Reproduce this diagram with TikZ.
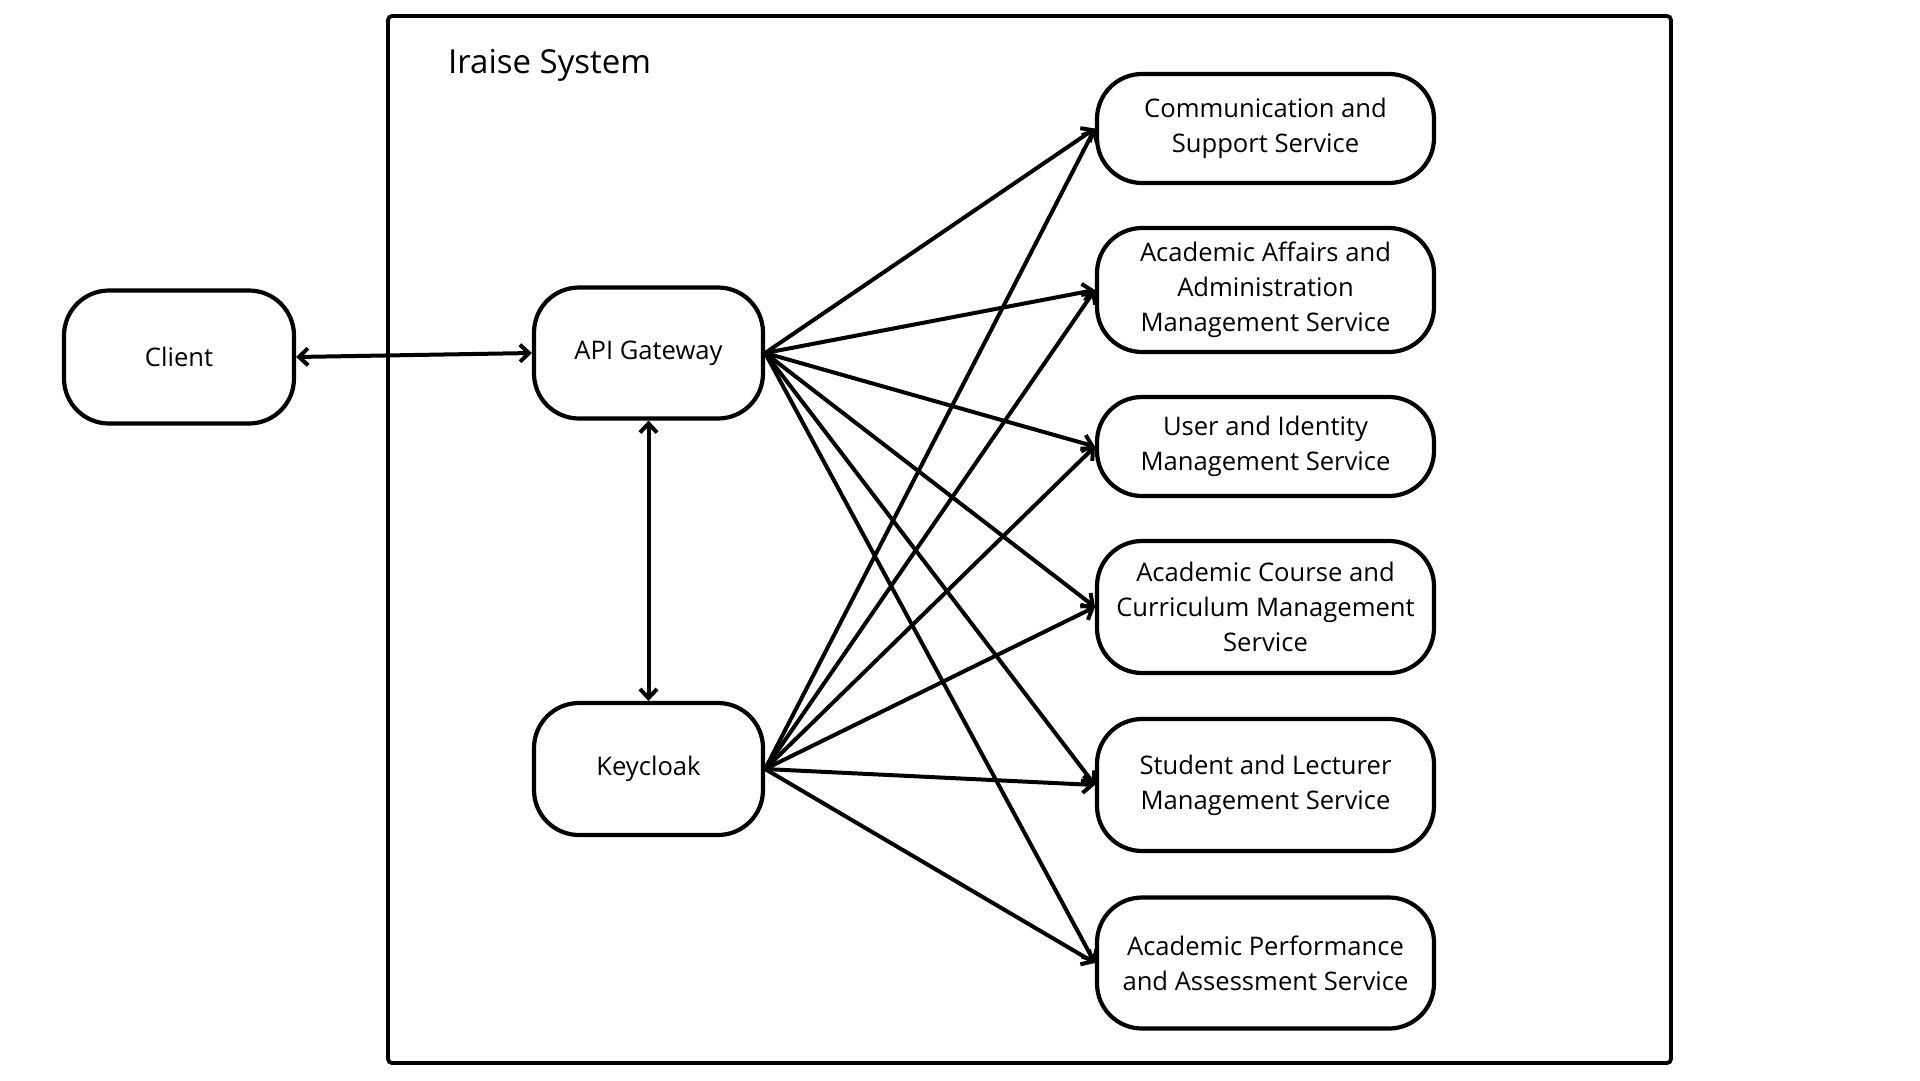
\documentclass[tikz,border=0pt]{standalone}
\usepackage{fontspec}
\setmainfont{Open Sans}
\usetikzlibrary{arrows.meta}
\tikzset{>={Straight Barb[length=9pt,width=17pt]}}
\tikzset{box/.style={draw, line width=4.2pt, rounded corners=45pt, align=center,
    inner sep=0pt, font=\fontsize{25.6}{35}\selectfont}}
\tikzset{svc/.style={box, minimum width=337pt}}
\tikzset{link/.style={->, line width=4pt, line cap=round, line join=round}}
\tikzset{frame/.style={draw, line width=3.8pt, rounded corners=4pt}}

\begin{document}
\begin{tikzpicture}[x=1pt, y=-1pt]
\useasboundingbox (0,0) rectangle (1920,1080);

\draw[frame] (388,16) rectangle (1671,1063);
\node[anchor=base west, inner sep=0pt, font=\fontsize{33}{40}\selectfont] (title) at (448,73) {Iraise System};

\node[box, minimum width=230pt, minimum height=133pt] (client) at (179,357) {Client};
\node[box, minimum width=229pt, minimum height=131pt] (api) at (648.5,353) {API Gateway};
\node[box, minimum width=229pt, minimum height=132pt] (keycloak) at (648.5,769) {Keycloak};

\node[svc, minimum height=109pt] (comm) at (1265.5,128.5) {Communication and\\Support Service};
\node[svc, minimum height=124pt] (affairs) at (1265.5,290) {Academic Affairs and\\Administration\\Management Service};
\node[svc, minimum height=99pt] (user) at (1265.5,446.5) {User and Identity\\Management Service};
\node[svc, minimum height=132pt] (course) at (1265.5,607) {Academic Course and\\Curriculum Management\\Service};
\node[svc, minimum height=132pt] (student) at (1265.5,785) {Student and Lecturer\\Management Service};
\node[svc, minimum height=131pt] (perf) at (1265.5,963) {Academic Performance\\and Assessment Service};

\draw[link, <->] (client.east) -- (api.west);
\draw[link, <->] (api.south) -- (keycloak.north);

\foreach \s in {comm, affairs, user, course, student, perf} {
  \draw[link] (api.east) -- (\s.west);
  \draw[link] (keycloak.east) -- (\s.west);
}

\end{tikzpicture}
\end{document}
